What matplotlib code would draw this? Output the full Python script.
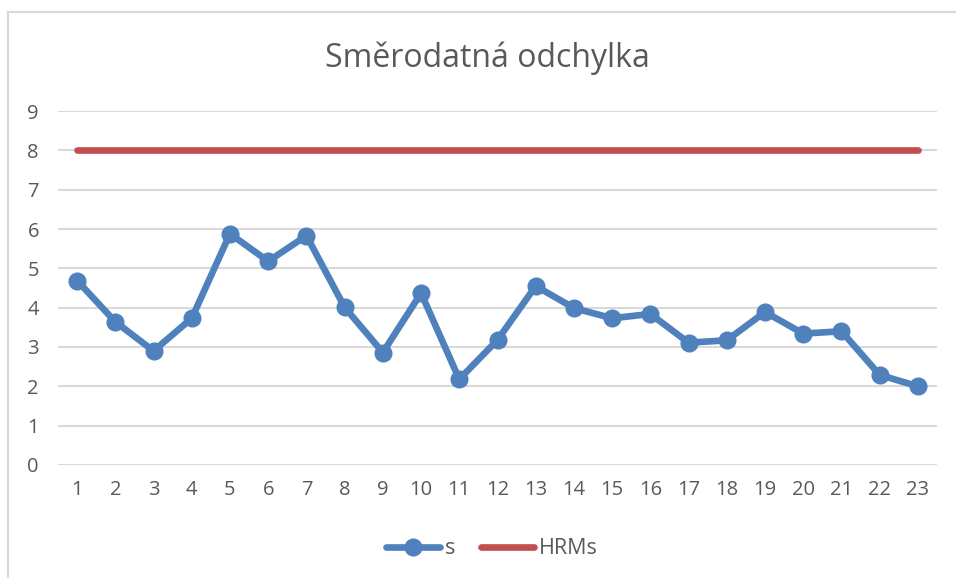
import matplotlib
matplotlib.use("Agg")
import matplotlib.pyplot as plt
from matplotlib.lines import Line2D

# Data
samples = list(range(1, 24))
s_values = [4.69, 3.64, 2.90, 3.73, 5.88, 5.18, 5.83, 4.01, 2.86, 4.37, 2.18, 3.18,
            4.55, 3.99, 3.73, 3.84, 3.11, 3.17, 3.89, 3.34, 3.40, 2.29, 2.00]
hrms_values = [8] * 23

blue = "#4F81BD"
red = "#C0504D"
text_color = "#595959"
grid_color = "#D9D9D9"

plt.rcParams['font.family'] = ['Open Sans', 'DejaVu Sans']

fig = plt.figure(figsize=(9.56, 5.78), dpi=100)
W, H = 956, 578
ax = fig.add_axes([58 / W, (H - 465) / H, (937 - 58) / W, (465 - 111) / H])

ax.plot(samples, s_values, color=blue, linewidth=4.8, marker="o", markersize=12,
        solid_capstyle="round", solid_joinstyle="round", label="s", zorder=3)
ax.plot(samples, hrms_values, color=red, linewidth=4.8, solid_capstyle="round",
        label="HRMs", zorder=3)

ax.set_xlim(0.5, 23.5)
ax.set_ylim(0, 9)
ax.set_xticks(samples)
ax.set_yticks(range(0, 10))
ax.tick_params(axis="both", length=0, labelsize=14.5, labelcolor=text_color)
ax.tick_params(axis="x", pad=11)
ax.tick_params(axis="y", pad=22)
for lbl in ax.get_yticklabels():
    lbl.set_horizontalalignment("left")
ax.grid(axis="y", color=grid_color, linewidth=1.5)
ax.set_axisbelow(True)
for sp in ax.spines.values():
    sp.set_visible(False)

fig.text(487 / W, 1 - 58 / H, "Směrodatná odchylka", ha="center", va="center",
         fontsize=23, color=text_color)

leg = fig.legend(loc="center", bbox_to_anchor=(492 / W, 1 - 549 / H), ncol=2,
                 frameon=False, fontsize=15.5, handlelength=2.5, columnspacing=1.2,
                 handletextpad=0.2)
for t in leg.get_texts():
    t.set_color(text_color)

# outer chart border (left and top edges visible)
fig.add_artist(Line2D([8 / W, 8 / W], [0, 1 - 12 / H], color=grid_color, linewidth=1.5))
fig.add_artist(Line2D([8 / W, 1], [1 - 12 / H, 1 - 12 / H], color=grid_color, linewidth=1.5))

fig.savefig("out.png", dpi=100, facecolor="white")
